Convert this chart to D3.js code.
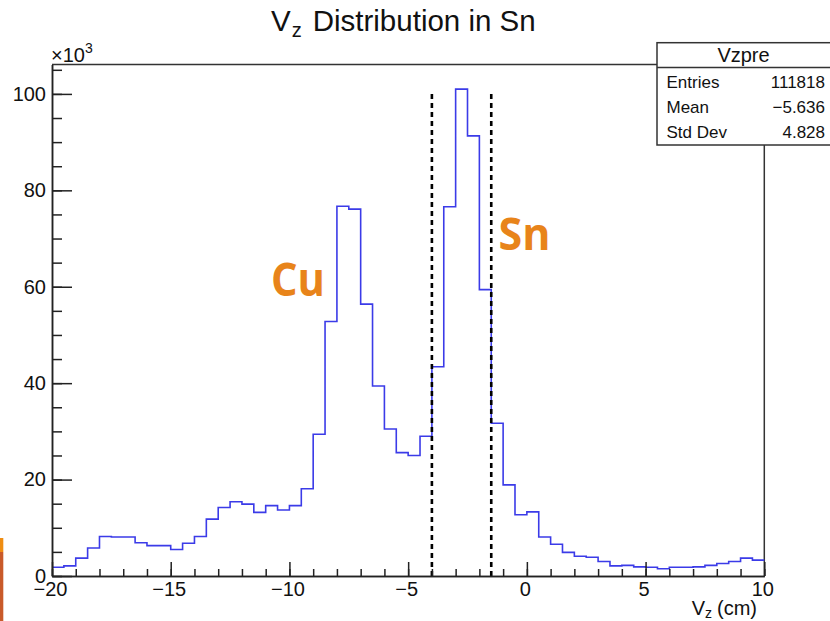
<!DOCTYPE html>
<html>
<head>
<meta charset="utf-8">
<script src="https://cdn.jsdelivr.net/npm/d3@7.9.0/dist/d3.min.js"></script>
<style>
  body { margin: 0; background: #fff; }
  svg { display: block; }
  text { font-family: "Liberation Sans", Arial, sans-serif; fill: #111; }
</style>
</head>
<body>
<svg id="chart" width="830" height="621"></svg>
<script>
/* Data: Vz histogram, 0.5 cm bins from -20 to 10 (counts in 10^3) */
const binLow = -20;
const binWidth = 0.5;
const counts = [
  1.8, 2.1, 3.7, 5.8, 8.2, 8.1, 8.1, 6.9, 6.3, 6.3,
  5.5, 6.8, 8.2, 11.8, 14.2, 15.4, 14.9, 13.2, 14.6, 13.7,
  14.6, 18.1, 29.4, 52.8, 76.7, 76.1, 56.4, 39.4, 30.5, 25.6,
  25.0, 29.0, 43.4, 76.6, 101.0, 91.3, 59.4, 31.7, 18.9, 12.7,
  13.3, 8.1, 6.6, 4.9, 4.1, 3.9, 3.0, 2.1, 2.2, 1.9,
  1.8, 1.5, 1.8, 1.8, 1.9, 2.2, 2.6, 3.0, 3.7, 3.3
];

// Sn target cut lines
const cutPositions = [-4, -1.5];
const cutHeight = 100.4;

const xMajorTicks = [-20, -15, -10, -5, 0, 5, 10];
const xMinorTicks = d3.range(-20, 10.001, 1);
const yMajorTicks = [0, 20, 40, 60, 80, 100];
const yMinorTicks = d3.range(0, 105.001, 5);

const statsTitle = 'Vzpre';
const statsLabels = ['Entries', 'Mean', 'Std Dev'];
const statsValues = ['111818', '\u22125.636', '4.828'];

/* Layout */
const svg = d3.select('#chart');
const frame = { left: 52, right: 764.3, top: 64.5, bottom: 576 };

const x = d3.scaleLinear().domain([-20, 10]).range([frame.left, frame.right]);
const y = d3.scaleLinear().domain([0, 106.1]).range([frame.bottom, frame.top]);

const minusFmt = (d) => String(d).replace('-', '\u2212');

// orange slide strip at bottom-left
svg.append('rect').attr('x', 0).attr('y', 538).attr('width', 3.3).attr('height', 14).attr('fill', '#ef8d12');
svg.append('rect').attr('x', 0).attr('y', 552).attr('width', 3.3).attr('height', 69).attr('fill', '#c95a2a');

// frame top and right
svg.append('line')
  .attr('x1', frame.left).attr('x2', frame.right)
  .attr('y1', frame.top).attr('y2', frame.top)
  .attr('stroke', '#333').attr('stroke-width', 1.5);
svg.append('line')
  .attr('x1', frame.right).attr('x2', frame.right)
  .attr('y1', frame.top).attr('y2', frame.bottom)
  .attr('stroke', '#333').attr('stroke-width', 1.5);

// histogram outline
const steps = [];
counts.forEach((c, i) => {
  const x0 = binLow + i * binWidth;
  steps.push([x0, c], [x0 + binWidth, c]);
});
const line = d3.line().x((d) => x(d[0])).y((d) => y(d[1]));
svg.append('path')
  .attr('d', line(steps))
  .attr('fill', 'none')
  .attr('stroke', '#3b3be8')
  .attr('stroke-width', 1.6);

// dashed cut lines
svg.selectAll('line.cut')
  .data(cutPositions)
  .enter()
  .append('line')
  .attr('class', 'cut')
  .attr('x1', (d) => x(d)).attr('x2', (d) => x(d))
  .attr('y1', y(0)).attr('y2', y(cutHeight))
  .attr('stroke', '#000')
  .attr('stroke-width', 2.6)
  .attr('stroke-dasharray', '5,4');

// y axis: minor then major ticks, drawn inward
const yAxisG = svg.append('g').attr('transform', `translate(${frame.left},0)`);
yAxisG.append('g')
  .call(d3.axisLeft(y).tickValues(yMinorTicks).tickSize(-10).tickSizeOuter(0).tickFormat(''));
yAxisG.append('g')
  .call(d3.axisLeft(y).tickValues(yMajorTicks).tickSize(-20).tickSizeOuter(0).tickPadding(6).tickFormat(minusFmt));

// x axis
const xAxisG = svg.append('g').attr('transform', `translate(0,${frame.bottom})`);
xAxisG.append('g')
  .call(d3.axisBottom(x).tickValues(xMinorTicks).tickSize(-7).tickSizeOuter(0).tickFormat(''));
xAxisG.append('g')
  .call(d3.axisBottom(x).tickValues(xMajorTicks).tickSize(-14).tickSizeOuter(0).tickPadding(6).tickFormat(minusFmt));

svg.selectAll('.tick line, .domain').attr('stroke', '#222').attr('stroke-width', 1.5);
svg.selectAll('.tick text')
  .style('font-family', '"Liberation Sans", Arial, sans-serif')
  .style('font-size', '20px')
  .attr('fill', '#111');
xAxisG.selectAll('.tick text').attr('dx', '-2');

// x10^3 multiplier
const mult = svg.append('text').attr('x', 51).attr('y', 62).style('font-size', '20px');
mult.append('tspan').text('\u00d710');
mult.append('tspan').attr('dy', -9).style('font-size', '14px').text('3');

// title
const title = svg.append('text').attr('x', 271).attr('y', 30.7).style('font-size', '29.5px');
title.append('tspan').text('V');
title.append('tspan').attr('dy', 6).attr('dx', 1).style('font-size', '20px').text('z');
title.append('tspan').attr('dy', -6).attr('dx', 11).text('Distribution in Sn');

// x axis title
const xTitle = svg.append('text').attr('x', 757).attr('y', 614.5).attr('text-anchor', 'end').style('font-size', '20px');
xTitle.append('tspan').text('V');
xTitle.append('tspan').attr('dy', 3.5).style('font-size', '14px').text('z');
xTitle.append('tspan').attr('dy', -3.5).attr('dx', 5).text('(cm)');

// stats box
const box = { x: 657, y: 42.7, w: 180, h: 102.3, sep: 67.5 };
svg.append('rect')
  .attr('x', box.x).attr('y', box.y).attr('width', box.w).attr('height', box.h)
  .attr('fill', '#fff').attr('stroke', '#333').attr('stroke-width', 1.5);
svg.append('line')
  .attr('x1', box.x).attr('x2', box.x + box.w).attr('y1', box.sep).attr('y2', box.sep)
  .attr('stroke', '#333').attr('stroke-width', 1.5);
svg.append('text')
  .attr('x', 743.5).attr('y', 61.7).attr('text-anchor', 'middle')
  .style('font-size', '20px').text(statsTitle);
const rowY = [88, 112.7, 138];
svg.selectAll('text.slabel')
  .data(statsLabels).enter().append('text')
  .attr('class', 'slabel')
  .attr('x', 666.5).attr('y', (d, i) => rowY[i])
  .style('font-size', '17px').text((d) => d);
svg.selectAll('text.svalue')
  .data(statsValues).enter().append('text')
  .attr('class', 'svalue')
  .attr('x', 825).attr('y', (d, i) => rowY[i]).attr('text-anchor', 'end')
  .style('font-size', '17px').text((d) => d);

// element annotations
svg.append('text')
  .attr('x', 271).attr('y', 296)
  .attr('textLength', 54).attr('lengthAdjust', 'spacingAndGlyphs')
  .style('font-family', '"Open Sans", sans-serif').style('font-weight', 700)
  .style('font-size', '47px').style('fill', '#e8841a')
  .text('Cu');
svg.append('text')
  .attr('x', 498.5).attr('y', 250)
  .attr('textLength', 52).attr('lengthAdjust', 'spacingAndGlyphs')
  .style('font-family', '"Open Sans", sans-serif').style('font-weight', 700)
  .style('font-size', '45px').style('fill', '#e8841a')
  .text('Sn');
</script>
</body>
</html>
